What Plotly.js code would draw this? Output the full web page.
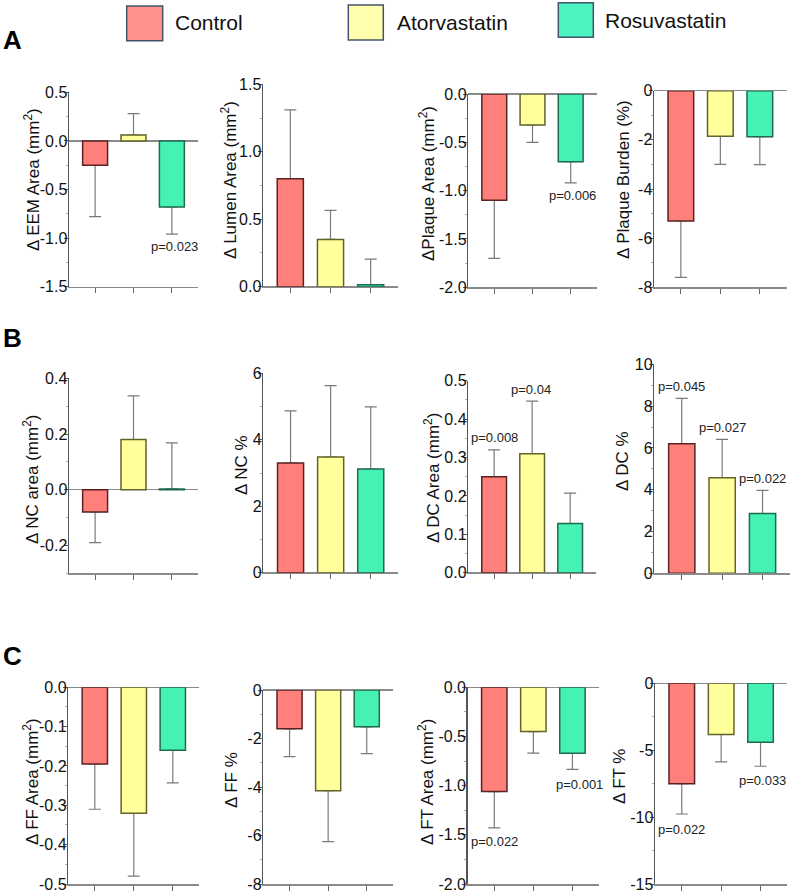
<!DOCTYPE html>
<html><head><meta charset="utf-8">
<script src="https://cdn.plot.ly/plotly-3.0.1.min.js"></script>
<style>html,body{margin:0;padding:0;background:#fff}#plot{width:800px;height:894px}</style>
</head><body><div id="plot"></div>
<script>
// ---- data ----
const groups = ['Control', 'Atorvastatin', 'Rosuvastatin'];
const fillColors = ['#FF7F7B', '#FFFF9C', '#45F2B3'];
const edgeColors = ['#5a2222', '#62622a', '#1f6a4e'];
const legendFill = ['#FF918C', '#FFFFAD', '#4DF2C0'];

const titles = ['Δ EEM Area (mm<sup>2</sup>)', 'Δ Lumen Area (mm<sup>2</sup>)', 'ΔPlaque Area (mm<sup>2</sup>)', 'Δ Plaque Burden (%)',
  'Δ NC area (mm<sup>2</sup>)', 'Δ NC %', 'Δ DC Area (mm<sup>2</sup>)', 'Δ DC %',
  'Δ FF Area (mm<sup>2</sup>)', 'Δ FF %', 'Δ FT Area (mm<sup>2</sup>)', 'Δ FT %'];

const eemMean = [-0.25, 0.06, -0.68];      const eemErr = [0.53, 0.22, 0.28];
const lumenMean = [0.80, 0.35, 0.015];     const lumenErr = [0.51, 0.215, 0.19];
const plaqueMean = [-1.10, -0.32, -0.70];  const plaqueErr = [0.60, 0.18, 0.22];
const burdenMean = [-5.3, -1.85, -1.87];   const burdenErr = [2.3, 1.15, 1.14];
const ncAreaMean = [-0.08, 0.18, 0.003];   const ncAreaErr = [0.11, 0.157, 0.165];
const ncPctMean = [3.3, 3.48, 3.12];       const ncPctErr = [1.57, 2.15, 1.87];
const dcAreaMean = [0.25, 0.31, 0.128];    const dcAreaErr = [0.07, 0.137, 0.079];
const dcPctMean = [6.2, 4.57, 2.86];       const dcPctErr = [2.17, 1.84, 1.11];
const ffAreaMean = [-0.195, -0.32, -0.16]; const ffAreaErr = [0.115, 0.16, 0.083];
const ffPctMean = [-1.6, -4.15, -1.52];    const ffPctErr = [1.15, 2.1, 1.1];
const ftAreaMean = [-1.06, -0.45, -0.67];  const ftAreaErr = [0.37, 0.22, 0.165];
const ftPctMean = [-7.5, -3.82, -4.4];     const ftPctErr = [2.27, 2.05, 1.8];

const means = [eemMean, lumenMean, plaqueMean, burdenMean, ncAreaMean, ncPctMean, dcAreaMean, dcPctMean, ffAreaMean, ffPctMean, ftAreaMean, ftPctMean];
const errs = [eemErr, lumenErr, plaqueErr, burdenErr, ncAreaErr, ncPctErr, dcAreaErr, dcPctErr, ffAreaErr, ffPctErr, ftAreaErr, ftPctErr];

const tickVals = [
  [0.5, 0, -0.5, -1, -1.5], [0, 0.5, 1, 1.5], [0, -0.5, -1, -1.5, -2], [0, -2, -4, -6, -8],
  [0.4, 0.2, 0, -0.2], [0, 2, 4, 6], [0, 0.1, 0.2, 0.3, 0.4, 0.5], [0, 2, 4, 6, 8, 10],
  [0, -0.1, -0.2, -0.3, -0.4, -0.5], [0, -2, -4, -6, -8], [0, -0.5, -1, -1.5, -2], [0, -5, -10, -15]];
const tickLabels = [
  ['0.5', '0.0', '-0.5', '-1.0', '-1.5'], ['0.0', '0.5', '1.0', '1.5'], ['0.0', '-0.5', '-1.0', '-1.5', '-2.0'], ['0', '-2', '-4', '-6', '-8'],
  ['0.4', '0.2', '0.0', '-0.2'], ['0', '2', '4', '6'], ['0.0', '0.1', '0.2', '0.3', '0.4', '0.5'], ['0', '2', '4', '6', '8', '10'],
  ['0.0', '-0.1', '-0.2', '-0.3', '-0.4', '-0.5'], ['0', '-2', '-4', '-6', '-8'], ['0.0', '-0.5', '-1.0', '-1.5', '-2.0'], ['0', '-5', '-10', '-15']];
const yRanges = [[-1.5, 0.5], [0, 1.5], [-2, 0], [-8, 0], [-0.3, 0.4], [0, 6], [0, 0.5], [0, 10], [-0.5, 0], [-8, 0], [-2, 0], [-15, 0]];
const minorStep = [0.25, 0.25, 0.25, 1, 0.1, 1, 0.05, 1, 0.05, 1, 0.25, 2.5];

// p-value labels: [panel, text, x (category), y]
const pLabels = [
  [0, 'p=0.023', 2.08, -1.09],
  [2, 'p=0.006', 2.05, -1.055],
  [6, 'p=0.008', 0.0, 0.352],
  [6, 'p=0.04', 0.98, 0.478],
  [7, 'p=0.045', 0.0, 8.96],
  [7, 'p=0.027', 1.0, 6.99],
  [7, 'p=0.022', 2.0, 4.55],
  [10, 'p=0.022', 0.0, -1.57],
  [10, 'p=0.001', 2.19, -0.984],
  [11, 'p=0.022', 0.0, -10.96],
  [11, 'p=0.033', 2.06, -7.23]];

// ---- layout geometry (pixels) ----
const W = 800, H = 894;
// [yaxis x, xaxis end, top px, bottom px]
const boxes = [
  [69, 198, 92.3, 286.7], [263, 398, 84.3, 286.7], [468.3, 596.7, 94, 287.3], [654, 786.7, 90.7, 287.3],
  [69, 198, 378.3, 573.3], [263.3, 398, 373.3, 572.7], [468.3, 596, 380.7, 572.7], [654.3, 790, 364.3, 573.3],
  [68.3, 199.3, 687.3, 884], [263.3, 393, 690, 884], [467.7, 599, 687.3, 884], [655, 787.3, 683.3, 884]];
// y-title centers [x, y]
const titlePos = [[32, 180], [229, 180], [427, 183], [624, 180],
  [31, 480], [241, 465], [432, 478], [622, 461],
  [31, 782], [231, 780], [426, 782], [619, 777]];

const FONT = 'Liberation Sans, Arial, sans-serif';
const data = [];
const layout = {
  width: W, height: H, margin: {l: 0, r: 0, t: 0, b: 0},
  paper_bgcolor: '#fff', plot_bgcolor: 'rgba(0,0,0,0)',
  showlegend: false, barmode: 'overlay',
  font: {family: FONT, color: '#111'},
  annotations: [], shapes: []
};

for (let i = 0; i < 12; i++) {
  const n = i + 1;
  const xa = 'x' + (n === 1 ? '' : n), ya = 'y' + (n === 1 ? '' : n);
  const m = means[i], e = errs[i];
  const up = m.map((v, k) => v >= 0 ? e[k] : 0);
  const dn = m.map((v, k) => v < 0 ? e[k] : 0);
  // error bars (drawn first, under the bars)
  data.push({type: 'bar', x: [0, 1, 2], y: m, width: 0.65, xaxis: xa, yaxis: ya,
    marker: {color: 'rgba(0,0,0,0)', line: {width: 0}}, hoverinfo: 'skip', textposition: 'none',
    error_y: {type: 'data', symmetric: false, array: up, arrayminus: dn, color: '#7a7a7a', thickness: 1.2, width: 6}});
  data.push({type: 'bar', x: [0, 1, 2], y: m, width: 0.65, xaxis: xa, yaxis: ya, name: titles[i],
    hovertext: groups, hoverinfo: 'text+y', textposition: 'none',
    marker: {color: fillColors, line: {color: edgeColors, width: 1.5}}});
  const b = boxes[i];
  layout['xaxis' + (n === 1 ? '' : n)] = {
    domain: [b[0] / W, b[1] / W], range: [-0.68, 2.68], anchor: ya,
    tickvals: [0, 1, 2], showticklabels: false, ticks: 'outside', ticklen: 5, tickwidth: 1, tickcolor: '#666',
    showline: true, linecolor: '#8a8a8a', linewidth: 1.5, showgrid: false, zeroline: false, fixedrange: true
  };
  layout['yaxis' + (n === 1 ? '' : n)] = {
    domain: [1 - b[3] / H, 1 - b[2] / H], range: yRanges[i], anchor: xa,
    tickvals: tickVals[i], ticktext: tickLabels[i], ticks: 'outside', ticklen: 4, tickwidth: 1, tickcolor: '#555',
    ticklabelstandoff: -7,
    tickfont: {size: 16, color: '#111', family: FONT},
    minor: {dtick: minorStep[i], ticks: 'outside', ticklen: 2, tickcolor: '#aaa', showgrid: false},
    showline: true, linecolor: '#555', linewidth: 1.5, showgrid: false,
    zeroline: true, zerolinecolor: '#8a8a8a', zerolinewidth: 1.5, fixedrange: true
  };
  layout.annotations.push({xref: 'paper', yref: 'paper', x: titlePos[i][0] / W, y: 1 - titlePos[i][1] / H,
    text: titles[i], textangle: -90, showarrow: false, xanchor: 'center', yanchor: 'middle',
    font: {size: 17, color: '#111', family: FONT}});
}

pLabels.forEach(p => {
  const n = p[0] + 1;
  layout.annotations.push({xref: 'x' + (n === 1 ? '' : n), yref: 'y' + (n === 1 ? '' : n), x: p[2], y: p[3],
    text: p[1], showarrow: false, xanchor: 'center', yanchor: 'middle', font: {size: 13, color: '#222', family: FONT}});
});

// panel letters
[['A', 12.5, 40], ['B', 12, 338], ['C', 12.5, 656]].forEach(l => {
  layout.annotations.push({xref: 'paper', yref: 'paper', x: l[1] / W, y: 1 - l[2] / H, text: '<b>' + l[0] + '</b>',
    showarrow: false, xanchor: 'center', yanchor: 'middle', font: {size: 26, color: '#000', family: FONT}});
});

// legend (boxes + labels)
const legBoxes = [[126.7, 162.7, 6, 40.7], [348.3, 383.3, 5, 40], [558.3, 593.3, 2.7, 37.3]];
const legText = [[173, 23], [395, 22.5], [603, 20]];
groups.forEach((g, k) => {
  const bx = legBoxes[k];
  layout.shapes.push({type: 'rect', xref: 'paper', yref: 'paper', x0: bx[0] / W, x1: bx[1] / W, y0: 1 - bx[3] / H, y1: 1 - bx[2] / H,
    fillcolor: legendFill[k], line: {color: '#44546A', width: 1.5}});
  layout.annotations.push({xref: 'paper', yref: 'paper', x: legText[k][0] / W, y: 1 - legText[k][1] / H, text: g,
    showarrow: false, xanchor: 'left', yanchor: 'middle', font: {size: 21, color: '#111', family: FONT}});
});

Plotly.newPlot('plot', data, layout, {displayModeBar: false, staticPlot: true});
</script></body></html>
